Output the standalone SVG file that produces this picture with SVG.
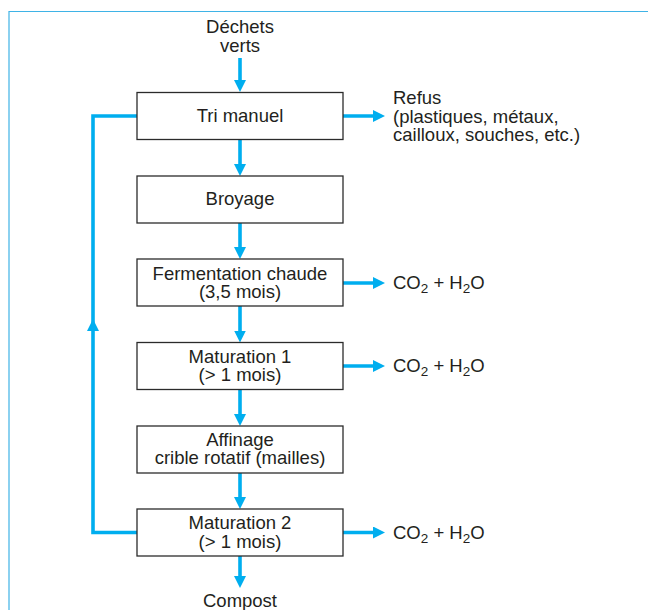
<svg xmlns="http://www.w3.org/2000/svg" width="648" height="610" viewBox="0 0 648 610">
<defs>
<style>
.box{fill:#fff;stroke:#2b2b2b;stroke-width:1.3}
.t{font-family:"Liberation Sans",Arial,sans-serif;font-size:18.5px;fill:#231f20}
.c{text-anchor:middle}
.ln{fill:none;stroke:#00aeef;stroke-width:3.6}
.frame{fill:none;stroke:#3fb3e6;stroke-width:1.2}
</style>
<marker id="ah" viewBox="0 0 12 12" refX="4" refY="6" markerWidth="12" markerHeight="12" markerUnits="userSpaceOnUse" orient="auto">
<path d="M0,0 L12,6 L0,12 z" fill="#00aeef"/>
</marker>
</defs>
<rect width="648" height="610" fill="#fff"/>
<path class="frame" d="M9,610 V11.5 H648"/>
<g id="connectors">
<line class="ln" x1="240" y1="58" x2="240" y2="84" marker-end="url(#ah)"/>
<line class="ln" x1="240" y1="139.5" x2="240" y2="168" marker-end="url(#ah)"/>
<line class="ln" x1="240" y1="223" x2="240" y2="251" marker-end="url(#ah)"/>
<line class="ln" x1="240" y1="306" x2="240" y2="334.5" marker-end="url(#ah)"/>
<line class="ln" x1="240" y1="389.5" x2="240" y2="418" marker-end="url(#ah)"/>
<line class="ln" x1="240" y1="473" x2="240" y2="501" marker-end="url(#ah)"/>
<line class="ln" x1="240" y1="556" x2="240" y2="580" marker-end="url(#ah)"/>
<line class="ln" x1="343" y1="116" x2="377" y2="116" marker-end="url(#ah)"/>
<line class="ln" x1="343" y1="283" x2="377" y2="283" marker-end="url(#ah)"/>
<line class="ln" x1="343" y1="366" x2="377" y2="366" marker-end="url(#ah)"/>
<line class="ln" x1="343" y1="532.5" x2="377" y2="532.5" marker-end="url(#ah)"/>
<polyline class="ln" points="137,532.5 93,532.5 93,116 137,116"/>
<polygon points="93,319 87,331 99,331" fill="#00aeef"/>
</g>
<g id="input"><text class="t c" x="240" y="33">Déchets</text><text class="t c" x="240" y="52">verts</text></g>
<g id="tri"><rect class="box" x="137" y="92.5" width="206" height="47"/><text class="t c" x="240" y="122">Tri manuel</text></g>
<g id="broyage"><rect class="box" x="137" y="176" width="206" height="47"/><text class="t c" x="240" y="205">Broyage</text></g>
<g id="fermentation"><rect class="box" x="137" y="259" width="206" height="47"/><text class="t c" x="240" y="279.5">Fermentation chaude</text><text class="t c" x="240" y="298">(3,5 mois)</text></g>
<g id="maturation1"><rect class="box" x="137" y="342.5" width="206" height="47"/><text class="t c" x="240" y="362.5">Maturation 1</text><text class="t c" x="240" y="381">(&gt; 1 mois)</text></g>
<g id="affinage"><rect class="box" x="137" y="426" width="206" height="47"/><text class="t c" x="240" y="445.5">Affinage</text><text class="t c" x="240" y="464">crible rotatif (mailles)</text></g>
<g id="maturation2"><rect class="box" x="137" y="509" width="206" height="47"/><text class="t c" x="240" y="529">Maturation 2</text><text class="t c" x="240" y="547.5">(&gt; 1 mois)</text></g>
<g id="compost"><text class="t c" x="240" y="607">Compost</text></g>
<g id="refus"><text class="t" x="393" y="104">Refus</text><text class="t" x="393" y="122.5">(plastiques, métaux,</text><text class="t" x="393" y="141">cailloux, souches, etc.)</text></g>
<g id="out1"><text class="t" x="393" y="289">CO<tspan font-size="13.5" dy="4">2</tspan><tspan dy="-4"> + H</tspan><tspan font-size="13.5" dy="4">2</tspan><tspan dy="-4">O</tspan></text></g>
<g id="out2"><text class="t" x="393" y="372">CO<tspan font-size="13.5" dy="4">2</tspan><tspan dy="-4"> + H</tspan><tspan font-size="13.5" dy="4">2</tspan><tspan dy="-4">O</tspan></text></g>
<g id="out3"><text class="t" x="393" y="538.5">CO<tspan font-size="13.5" dy="4">2</tspan><tspan dy="-4"> + H</tspan><tspan font-size="13.5" dy="4">2</tspan><tspan dy="-4">O</tspan></text></g>
</svg>
